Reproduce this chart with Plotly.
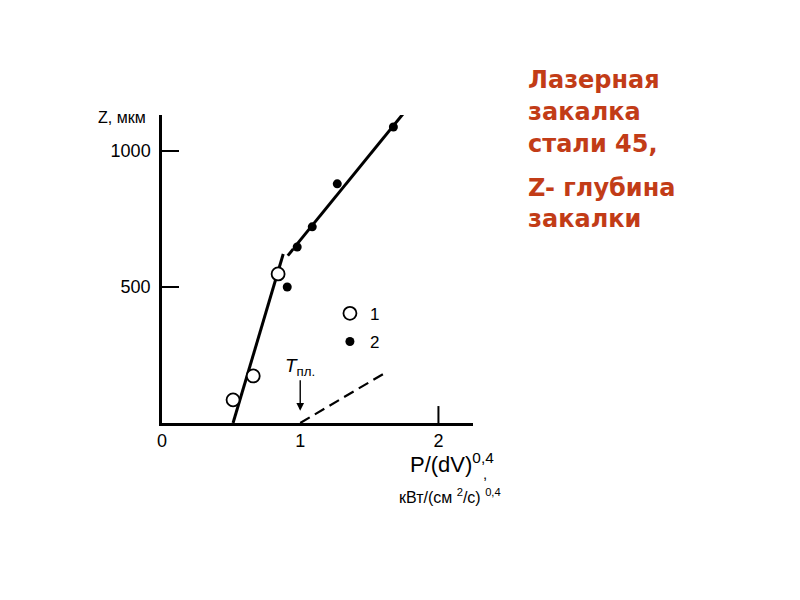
import plotly.graph_objects as go

# ---- data ----
s1_x = [0.514, 0.66, 0.84]                      # series 1 (open circles)
s1_y = [85, 173, 548]
s2_x = [0.906, 0.978, 1.087, 1.268, 1.674]      # series 2 (filled dots)
s2_y = [500, 647, 721, 879, 1088]

steep_x = [0.514, 0.877]                        # steep fit line
steep_y = [0, 621]
upper_dash_x = [0.91, 0.95]                     # dashed start of upper line
upper_dash_y = [615, 640]
upper_x = [0.965, 1.75]                         # upper fit line
upper_y = [650, 1140]
melt_x = [1.0, 1.6]                             # dashed line from T_melt
melt_y = [0, 180]

x_ticks = [0, 1, 2]
x_ticklabels = ["0", "1", "2"]
y_ticks = [500, 1000]
y_ticklabels = ["500", "1000"]
legend_names = ["1", "2"]

FONT = "Liberation Sans, Arial, sans-serif"
RED = "#C23C17"

# page body has an 8px margin; plot area target: x 162..473, y 115..423 (screen)
OFF = 8
L, R, T, B = 162 - OFF, 800 - (473 - OFF), 115 - OFF, 600 - (423 - OFF)
PW, PH = 311, 308


def px(xs):
    return (xs - 162) / PW


def py(ys):
    return (423 - ys) / PH


fig = go.Figure()

fig.add_trace(go.Scatter(x=steep_x, y=steep_y, mode="lines",
                         line=dict(color="black", width=3), showlegend=False, hoverinfo="skip"))
fig.add_trace(go.Scatter(x=upper_dash_x, y=upper_dash_y, mode="lines",
                         line=dict(color="black", width=3), showlegend=False, hoverinfo="skip"))
fig.add_trace(go.Scatter(x=upper_x, y=upper_y, mode="lines",
                         line=dict(color="black", width=3), showlegend=False, hoverinfo="skip"))
fig.add_trace(go.Scatter(x=melt_x, y=melt_y, mode="lines",
                         line=dict(color="black", width=2.2, dash="11px,6px"),
                         showlegend=False, hoverinfo="skip"))

fig.add_trace(go.Scatter(x=s1_x, y=s1_y, mode="markers", name=legend_names[0], legendgroup="a",
                         marker=dict(symbol="circle", size=13, color="white",
                                     line=dict(color="black", width=1.8))))
fig.add_trace(go.Scatter(x=s2_x, y=s2_y, mode="markers", name=legend_names[1], legendgroup="b",
                         marker=dict(symbol="circle", size=9, color="black",
                                     line=dict(color="black", width=0))))

fig.update_xaxes(range=[0, 2.25], showline=True, linecolor="black", linewidth=2.5,
                 showgrid=False, zeroline=False, ticks="",
                 tickvals=x_ticks, ticktext=x_ticklabels,
                 tickfont=dict(family=FONT, size=18, color="black"))
fig.update_yaxes(range=[0, 1132], showline=True, linecolor="black", linewidth=2.5,
                 showgrid=False, zeroline=False, ticks="inside", ticklen=17,
                 tickwidth=2, tickcolor="black", ticklabelstandoff=5,
                 tickvals=y_ticks, ticktext=y_ticklabels,
                 tickfont=dict(family=FONT, size=18, color="black"))

# tick mark at x = 2 (points up into the plot)
fig.add_shape(type="line", xref="x", yref="y domain", x0=x_ticks[-1], x1=x_ticks[-1],
              y0=0, y1=0.055, line=dict(color="black", width=2))

ann = []
ann.append(dict(xref="paper", yref="paper", x=px(148), y=py(118), xanchor="right", yanchor="middle",
                text="Z, мкм", showarrow=False, font=dict(family=FONT, size=16, color="black")))
ann.append(dict(xref="paper", yref="paper", x=px(408), y=py(463), xanchor="left", yanchor="middle",
                text="P/(dV)<sup>0,4</sup>", showarrow=False,
                font=dict(family=FONT, size=22, color="black")))
ann.append(dict(xref="paper", yref="paper", x=px(481), y=py(473), xanchor="left", yanchor="middle",
                text=",", showarrow=False, font=dict(family=FONT, size=15, color="black")))
ann.append(dict(xref="paper", yref="paper", x=px(397), y=py(496), xanchor="left", yanchor="middle",
                text="кВт/(см <sup>2</sup>/с) <sup>0,4</sup>", showarrow=False,
                font=dict(family=FONT, size=16, color="black")))
ann.append(dict(xref="x", yref="y", x=melt_x[0], y=45, ax=0, ay=-44,
                text="<i>T</i><sub>пл.</sub>", showarrow=True, arrowhead=2,
                arrowsize=1.1, arrowwidth=1.4, arrowcolor="black",
                font=dict(family=FONT, size=19, color="black")))

title_lines = [("Лазерная", 80), ("закалка", 112), ("стали 45,", 144),
               ("Z- глубина", 188), ("закалки", 219)]
for t, ypx in title_lines:
    ann.append(dict(xref="paper", yref="paper", x=px(526), y=py(ypx),
                    xanchor="left", yanchor="middle", text="<b>" + t + "</b>", showarrow=False,
                    font=dict(family="DejaVu Sans, Verdana, sans-serif", size=24, color=RED)))

fig.update_layout(
    width=800, height=600, autosize=False,
    margin=dict(l=L, r=R, t=T, b=B),
    paper_bgcolor="white", plot_bgcolor="white",
    showlegend=True,
    legend=dict(x=0.54, y=0.413, xanchor="left", yanchor="top",
                bgcolor="rgba(0,0,0,0)", font=dict(family=FONT, size=17, color="black"),
                itemwidth=30, tracegroupgap=3),
    annotations=ann,
)

fig.write_html("out.html")
